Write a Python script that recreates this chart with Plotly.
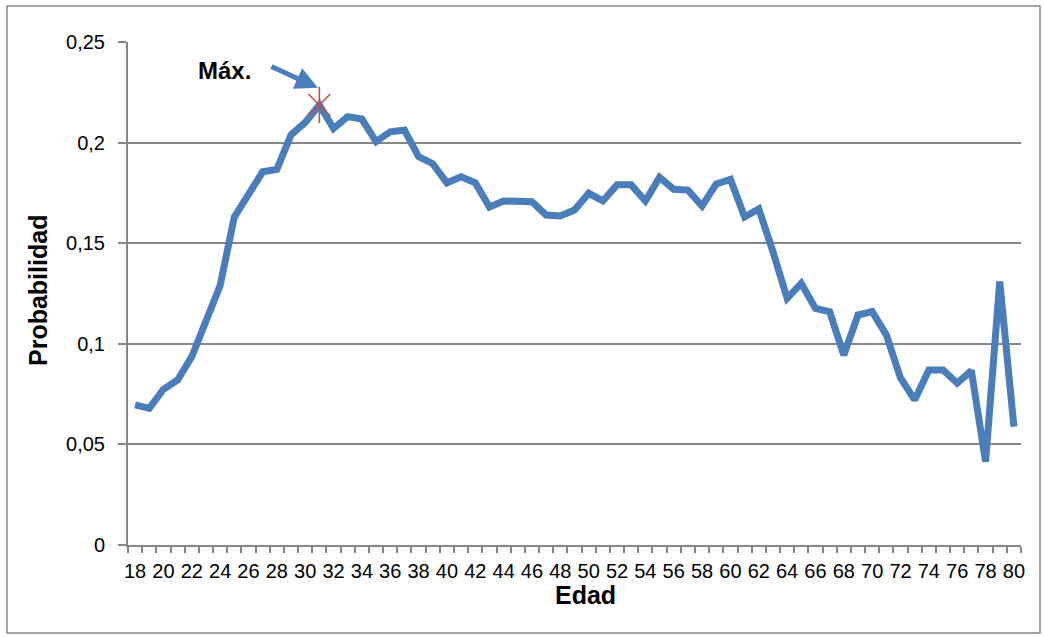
import plotly.graph_objects as go

# Age (years) and estimated probability for each age
edad = list(range(18, 81))
probabilidad = [
    0.0696, 0.0679, 0.0774, 0.0820, 0.0936, 0.1120, 0.1290, 0.1630, 0.1740, 0.1855,
    0.1867, 0.2038, 0.2100, 0.2187, 0.2070, 0.2129, 0.2117, 0.2005, 0.2054, 0.2063,
    0.1930, 0.1895, 0.1800, 0.1830, 0.1800, 0.1680, 0.1710, 0.1710, 0.1706, 0.1640,
    0.1635, 0.1665, 0.1748, 0.1710, 0.1790, 0.1790, 0.1710, 0.1827, 0.1768, 0.1764,
    0.1685, 0.1795, 0.1817, 0.1630, 0.1670, 0.1458, 0.1226, 0.1300, 0.1176, 0.1160,
    0.0944, 0.1143, 0.1160, 0.1044, 0.0830, 0.0721, 0.0870, 0.0870, 0.0805, 0.0866,
    0.0414, 0.1309, 0.0588,
]

# Axis tick positions / labels
x_tickvals = list(range(18, 81, 2))
y_tickvals = [0, 0.05, 0.1, 0.15, 0.2, 0.25]
y_ticktext = ["0", "0,05", "0,1", "0,15", "0,2", "0,25"]

# Maximum of the series
i_max = max(range(len(probabilidad)), key=lambda i: probabilidad[i])
edad_max = edad[i_max]
prob_max = probabilidad[i_max]

BLUE = "#4a7ebb"
RED = "#c0504d"
GRAY = "#868686"
FONT = "Liberation Sans, Arial, sans-serif"

fig = go.Figure()
fig.add_trace(go.Scatter(
    x=edad, y=probabilidad, mode="lines",
    line=dict(color=BLUE, width=7),
    hoverinfo="x+y", showlegend=False,
))
# Star marker (X + vertical bar) on the maximum
fig.add_trace(go.Scatter(
    x=[edad_max], y=[prob_max], mode="markers",
    marker=dict(symbol="x-thin-open", size=22, color=RED,
                line=dict(color=RED, width=1.6)),
    showlegend=False, hoverinfo="skip",
))
fig.add_trace(go.Scatter(
    x=[edad_max], y=[prob_max], mode="markers",
    marker=dict(symbol="line-ns-open", size=26, color=RED,
                line=dict(color=RED, width=1.6)),
    showlegend=False, hoverinfo="skip",
))

L, R, T, B = 128, 23, 42, 92
W, H = 1044, 637
pw, ph = W - L - R, H - T - B


def px_x(px):
    return (px - L) / pw


def px_y(py):
    return (H - B - py) / ph


fig.update_layout(
    width=W, height=H,
    margin=dict(l=L, r=R, t=T, b=B, pad=0),
    paper_bgcolor="white", plot_bgcolor="white",
    font=dict(family=FONT, size=20, color="black"),
    xaxis=dict(
        range=[17.5, 80.5],
        tickmode="array", tickvals=x_tickvals, ticks="",
        ticklabelstandoff=7,
        showgrid=False, zeroline=False,
        showline=True, linecolor=GRAY, linewidth=2,
        tickfont=dict(size=20, color="black"),
        minor=dict(ticks="outside", tick0=17.5, dtick=1, ticklen=6,
                   tickcolor=GRAY, tickwidth=1.5, showgrid=False),
    ),
    yaxis=dict(
        range=[0, 0.25],
        tickmode="array", tickvals=y_tickvals, ticktext=y_ticktext,
        ticks="outside", ticklen=8, tickcolor=GRAY, tickwidth=1.5,
        ticklabelstandoff=9,
        showgrid=True, gridcolor=GRAY, gridwidth=1.5,
        zeroline=False,
        showline=True, linecolor=GRAY, linewidth=2,
        tickfont=dict(size=20, color="black"),
    ),
    shapes=[
        dict(type="rect", xref="paper", yref="paper",
             x0=px_x(7), x1=px_x(1040), y0=px_y(633), y1=px_y(6),
             line=dict(color=GRAY, width=1.5), fillcolor="rgba(0,0,0,0)",
             layer="below"),
    ],
    annotations=[
        dict(text="<b>Edad</b>", xref="paper", yref="paper",
             x=px_x(585), y=px_y(595), showarrow=False,
             xanchor="center", yanchor="middle", font=dict(size=25)),
        dict(text="<b>Probabilidad</b>", xref="paper", yref="paper",
             x=px_x(38), y=px_y(291), showarrow=False, textangle=-90,
             xanchor="center", yanchor="middle", font=dict(size=25)),
        dict(text="<b>Máx.</b>", xref="paper", yref="paper",
             x=px_x(224), y=px_y(70), showarrow=False,
             xanchor="center", yanchor="middle", font=dict(size=24)),
        dict(text="", x=edad_max - 0.1, y=prob_max + 0.0085,
             xref="x", yref="y", showarrow=True,
             ax=-48, ay=-22, arrowhead=2, arrowsize=0.9, arrowwidth=5,
             arrowcolor=BLUE, standoff=0),
    ],
)

fig.write_html("out.html")
